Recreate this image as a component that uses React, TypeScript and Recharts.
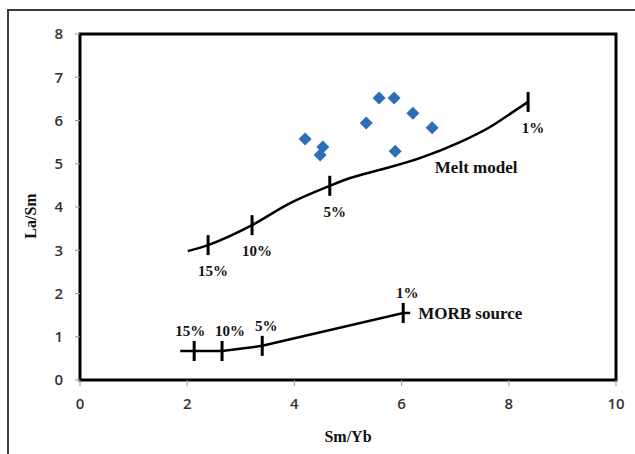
import {
  ComposedChart,
  Line,
  Scatter,
  XAxis,
  YAxis,
  ReferenceArea,
  ReferenceDot,
  Label,
} from "recharts";

const xTicks = [0, 2, 4, 6, 8, 10];
const yTicks = [0, 1, 2, 3, 4, 5, 6, 7, 8];

// basalt samples (blue diamonds)
const samples = [
  { x: 4.2, y: 5.57 },
  { x: 4.53, y: 5.39 },
  { x: 4.48, y: 5.2 },
  { x: 5.34, y: 5.94 },
  { x: 5.58, y: 6.52 },
  { x: 5.86, y: 6.52 },
  { x: 6.21, y: 6.17 },
  { x: 6.57, y: 5.83 },
  { x: 5.88, y: 5.29 },
];

const meltModel = [
  { x: 2.01, y: 2.98 },
  { x: 2.39, y: 3.12 },
  { x: 3.21, y: 3.58 },
  { x: 3.92, y: 4.09 },
  { x: 4.66, y: 4.49 },
  { x: 5.04, y: 4.67 },
  { x: 5.6, y: 4.86 },
  { x: 6.34, y: 5.13 },
  { x: 7.09, y: 5.5 },
  { x: 7.65, y: 5.85 },
  { x: 8.08, y: 6.2 },
  { x: 8.36, y: 6.43 },
];

const meltSteps = [
  { x: 2.39, y: 3.12, label: "15%" },
  { x: 3.21, y: 3.58, label: "10%" },
  { x: 4.66, y: 4.49, label: "5%" },
  { x: 8.36, y: 6.43, label: "1%" },
];

const morbSource = [
  { x: 1.87, y: 0.67 },
  { x: 2.13, y: 0.67 },
  { x: 2.65, y: 0.67 },
  { x: 3.4, y: 0.79 },
  { x: 6.03, y: 1.55 },
  { x: 6.16, y: 1.55 },
];

const morbSteps = [
  { x: 2.13, y: 0.67, label: "15%" },
  { x: 2.65, y: 0.67, label: "10%" },
  { x: 3.4, y: 0.79, label: "5%" },
  { x: 6.03, y: 1.55, label: "1%" },
];

const serif = "'Liberation Serif', 'Times New Roman', serif";
const tickFont = { fontFamily: "'Open Sans', sans-serif", fontSize: 15, fontWeight: 600, fill: "#333" };

const Diamond = (props: any) => {
  const { cx, cy } = props;
  const r = 6.5;
  return (
    <polygon
      points={`${cx},${cy - r} ${cx + r},${cy} ${cx},${cy + r} ${cx - r},${cy}`}
      fill="#2e6db8"
    />
  );
};

const morbShift: Record<string, number> = { "15%": -4, "10%": 8, "5%": 4, "1%": 4 };

const makeStep = (below: boolean) => (props: any) => {
  const { cx, cy, payload } = props;
  const dx = below ? 5 : morbShift[payload.label] ?? 0;
  const ty = below ? cy + 31 : cy - 15;
  return (
    <g>
      <line x1={cx} x2={cx} y1={cy - 10} y2={cy + 10} stroke="#000" strokeWidth={3} />
      <text
        x={cx + dx}
        y={ty}
        textAnchor="middle"
        fontFamily={serif}
        fontWeight="bold"
        fontSize={15}
        fill="#111"
      >
        {payload.label}
      </text>
    </g>
  );
};

export default function App() {
  return (
    <div
      style={{
        position: "fixed",
        left: 0,
        top: 0,
        width: 635,
        height: 454,
        background: "#fff",
        overflow: "hidden",
      }}
    >
      <div
        style={{
          position: "absolute",
          left: 7,
          top: 9,
          width: 700,
          height: 500,
          borderLeft: "2px solid #3a3a3a",
          borderTop: "2px solid #3a3a3a",
        }}
      />
      <div style={{ position: "absolute", left: 0, top: 0 }}>
        <ComposedChart
          width={635}
          height={454}
          margin={{ top: 34, right: 19, left: 50, bottom: 44 }}
        >
          <XAxis
            dataKey="x"
            type="number"
            domain={[0, 10]}
            ticks={xTicks}
            height={30}
            tick={tickFont}
            tickSize={6}
            tickMargin={12}
            tickLine={{ stroke: "#999" }}
            axisLine={false}
            allowDuplicatedCategory={false}
          >
            <Label
              content={({ viewBox }: any) => (
                <text
                  x={viewBox.x + viewBox.width / 2}
                  y={viewBox.y + 62}
                  textAnchor="middle"
                  fontFamily={serif}
                  fontWeight="bold"
                  fontSize={16}
                  fill="#111"
                >
                  Sm/Yb
                </text>
              )}
            />
          </XAxis>
          <YAxis
            dataKey="y"
            type="number"
            domain={[0, 8]}
            ticks={yTicks}
            width={30}
            tick={tickFont}
            tickSize={5}
            tickMargin={12}
            tickLine={{ stroke: "#999" }}
            axisLine={false}
          >
            <Label
              content={({ viewBox }: any) => {
                const x = viewBox.x - 20;
                const y = viewBox.y + viewBox.height / 2 + 9;
                return (
                  <text
                    x={x}
                    y={y}
                    transform={`rotate(-90 ${x} ${y})`}
                    textAnchor="middle"
                    dominantBaseline="central"
                    fontFamily={serif}
                    fontWeight="bold"
                    fontSize={16}
                    fill="#111"
                  >
                    La/Sm
                  </text>
                );
              }}
            />
          </YAxis>
          <ReferenceArea
            x1={0}
            x2={10}
            y1={0}
            y2={8}
            fill="none"
            stroke="#000"
            strokeWidth={3}
          />
          <Scatter data={samples} shape={Diamond} isAnimationActive={false} />
          <Line
            data={meltModel}
            dataKey="y"
            type="monotone"
            stroke="#000"
            strokeWidth={2.5}
            dot={false}
            activeDot={false}
            isAnimationActive={false}
          />
          <Line
            data={morbSource}
            dataKey="y"
            type="linear"
            stroke="#000"
            strokeWidth={2.5}
            dot={false}
            activeDot={false}
            isAnimationActive={false}
          />
          <Scatter data={meltSteps} shape={makeStep(true)} isAnimationActive={false} />
          <Scatter data={morbSteps} shape={makeStep(false)} isAnimationActive={false} />
          <ReferenceDot
            x={6.62}
            y={4.92}
            r={0}
            label={{
              value: "Melt model",
              position: "right",
              offset: 0,
              fontFamily: serif,
              fontWeight: "bold",
              fontSize: 17,
              fill: "#111",
            }}
          />
          <ReferenceDot
            x={6.31}
            y={1.55}
            r={0}
            label={{
              value: "MORB source",
              position: "right",
              offset: 0,
              fontFamily: serif,
              fontWeight: "bold",
              fontSize: 17,
              fill: "#111",
            }}
          />
        </ComposedChart>
      </div>
    </div>
  );
}
